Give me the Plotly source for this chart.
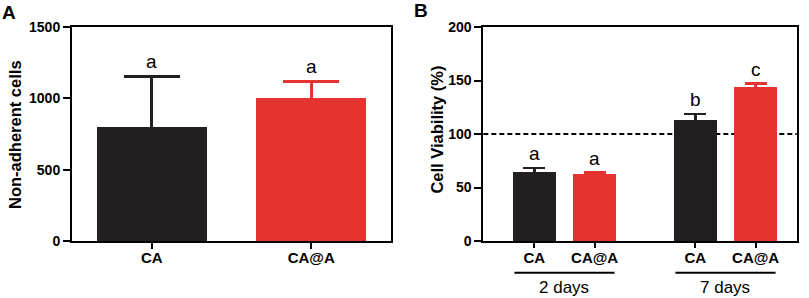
import plotly.graph_objects as go

# ---- data ----
a_categories = ["CA", "CA@A"]
a_values = [800, 1000]
a_err_upper = [350, 115]
a_letters = ["a", "a"]
a_yticks = [0, 500, 1000, 1500]

b_groups = ["2 days", "2 days", "7 days", "7 days"]
b_labels = ["CA", "CA@A", "CA", "CA@A"]
b_values = [64.5, 63, 113, 143.5]
b_err_upper = [3.5, 1.0, 5.5, 3.5]
b_letters = ["a", "a", "b", "c"]
b_yticks = [0, 50, 100, 150, 200]
b_reference = 100

BLACK = "#231f20"
RED = "#e53331"
FONT = "Liberation Sans, Arial, sans-serif"
colors_a = [BLACK, RED]
colors_b = [BLACK, RED, BLACK, RED]

# x positions for panel B computed from group membership
gap_between_groups = 1.67   # distance between last bar of a group and first of next
uniq_groups = list(dict.fromkeys(b_groups))
b_x = []
for i, g in enumerate(b_groups):
    gi = uniq_groups.index(g)
    members = [j for j, gg in enumerate(b_groups) if gg == g]
    within = members.index(i)
    b_x.append(gi * (len(members) - 1 + gap_between_groups) + within)

fig = go.Figure()

# panel A bars (lower error reaches to the base so no visible lower cap)
for i, cat in enumerate(a_categories):
    fig.add_trace(go.Bar(
        x=[cat], y=[a_values[i]], width=0.69,
        marker=dict(color=colors_a[i], line=dict(width=0)),
        error_y=dict(type="data", symmetric=False, array=[a_err_upper[i]],
                     arrayminus=[a_values[i]],
                     color=colors_a[i], thickness=3, width=28),
        xaxis="x", yaxis="y", showlegend=False, hoverinfo="skip"))

# panel B bars
for i in range(len(b_values)):
    fig.add_trace(go.Bar(
        x=[b_x[i]], y=[b_values[i]], width=0.713,
        marker=dict(color=colors_b[i], line=dict(width=0)),
        error_y=dict(type="data", symmetric=False, array=[b_err_upper[i]],
                     arrayminus=[b_values[i]],
                     color=colors_b[i], thickness=2.5, width=11),
        xaxis="x2", yaxis="y2", showlegend=False, hoverinfo="skip"))

ann = []
# letters
for i, cat in enumerate(a_categories):
    ann.append(dict(x=cat, y=a_values[i] + a_err_upper[i], xref="x", yref="y",
                    text=a_letters[i], showarrow=False, yanchor="bottom", yshift=3,
                    font=dict(size=19, family=FONT, color="black")))
for i in range(len(b_values)):
    ann.append(dict(x=b_x[i], y=b_values[i] + b_err_upper[i], xref="x2", yref="y2",
                    text=b_letters[i], showarrow=False, yanchor="bottom", yshift=2,
                    font=dict(size=19, family=FONT, color="black")))

# group labels and lines for panel B
shapes = []
for g in uniq_groups:
    xs = [b_x[i] for i in range(len(b_x)) if b_groups[i] == g]
    c = sum(xs) / len(xs)
    shapes.append(dict(type="line", xref="x2", yref="paper", x0=c - 0.83, x1=c + 0.83,
                       y0=-0.148, y1=-0.148, line=dict(color="black", width=2)))
    ann.append(dict(x=c, y=-0.215, xref="x2", yref="paper", text=g, showarrow=False,
                    yanchor="middle", font=dict(size=17, family=FONT, color="black")))

# reference dashed line
shapes.append(dict(type="line", xref="x2 domain", yref="y2", x0=0, x1=1,
                   y0=b_reference, y1=b_reference, layer="below",
                   line=dict(color="black", width=2, dash="5px,3px")))

# axis titles and panel labels
ann.append(dict(x=0.0185, y=0.5, xref="paper", yref="paper", text="<b>Non-adherent cells</b>",
                textangle=-90, showarrow=False, xanchor="center", yanchor="middle",
                font=dict(size=16.5, family=FONT, color="black")))
ann.append(dict(x=0.54, y=0.52, xref="paper", yref="paper", text="<b>Cell Viability (%)</b>",
                textangle=-90, showarrow=False, xanchor="center", yanchor="middle",
                font=dict(size=16.5, family=FONT, color="black")))
ann.append(dict(x=0.0, y=1.068, xref="paper", yref="paper", text="<b>A</b>",
                showarrow=False, xanchor="left", yanchor="middle",
                font=dict(size=19, family=FONT, color="black")))
ann.append(dict(x=0.509, y=1.075, xref="paper", yref="paper", text="<b>B</b>",
                showarrow=False, xanchor="left", yanchor="middle",
                font=dict(size=19, family=FONT, color="black")))

axis_common = dict(showline=True, linecolor="black", linewidth=2, mirror=True,
                   ticks="outside", tickcolor="black", tickwidth=2, showgrid=False,
                   zeroline=False)
tick_y = dict(size=14, family=FONT, color="black")
tick_x = dict(size=15, family=FONT, color="black")

fig.update_layout(
    width=809, height=298,
    margin=dict(l=0, r=0, t=27, b=57),
    paper_bgcolor="white", plot_bgcolor="white",
    hovermode=False,
    xaxis=dict(domain=[72 / 809, 391 / 809], type="category", range=[-0.5, 1.5],
               ticklen=6, tickvals=a_categories, ticklabelstandoff=-4,
               ticktext=["<b>%s</b>" % c for c in a_categories],
               tickfont=tick_x, **axis_common),
    yaxis=dict(range=[0, 1500], tickvals=a_yticks,
               ticktext=["<b>%d</b>" % v for v in a_yticks], ticklen=7,
               tickfont=tick_y, **axis_common),
    xaxis2=dict(domain=[483.3 / 809, 796.7 / 809], range=[-0.846, 4.351],
                tickvals=b_x, ticktext=["<b>%s</b>" % c for c in b_labels], ticklen=5,
                ticklabelstandoff=-3,
                anchor="y2", tickfont=tick_x, **axis_common),
    yaxis2=dict(range=[0, 200], tickvals=b_yticks, anchor="x2",
                ticktext=["<b>%d</b>" % v for v in b_yticks], ticklen=7,
                tickfont=tick_y, **axis_common),
    annotations=ann, shapes=shapes,
    bargap=0,
)

fig.write_html("out.html", config={"displayModeBar": False, "staticPlot": True},
               post_script="document.body.style.margin='0px';")
